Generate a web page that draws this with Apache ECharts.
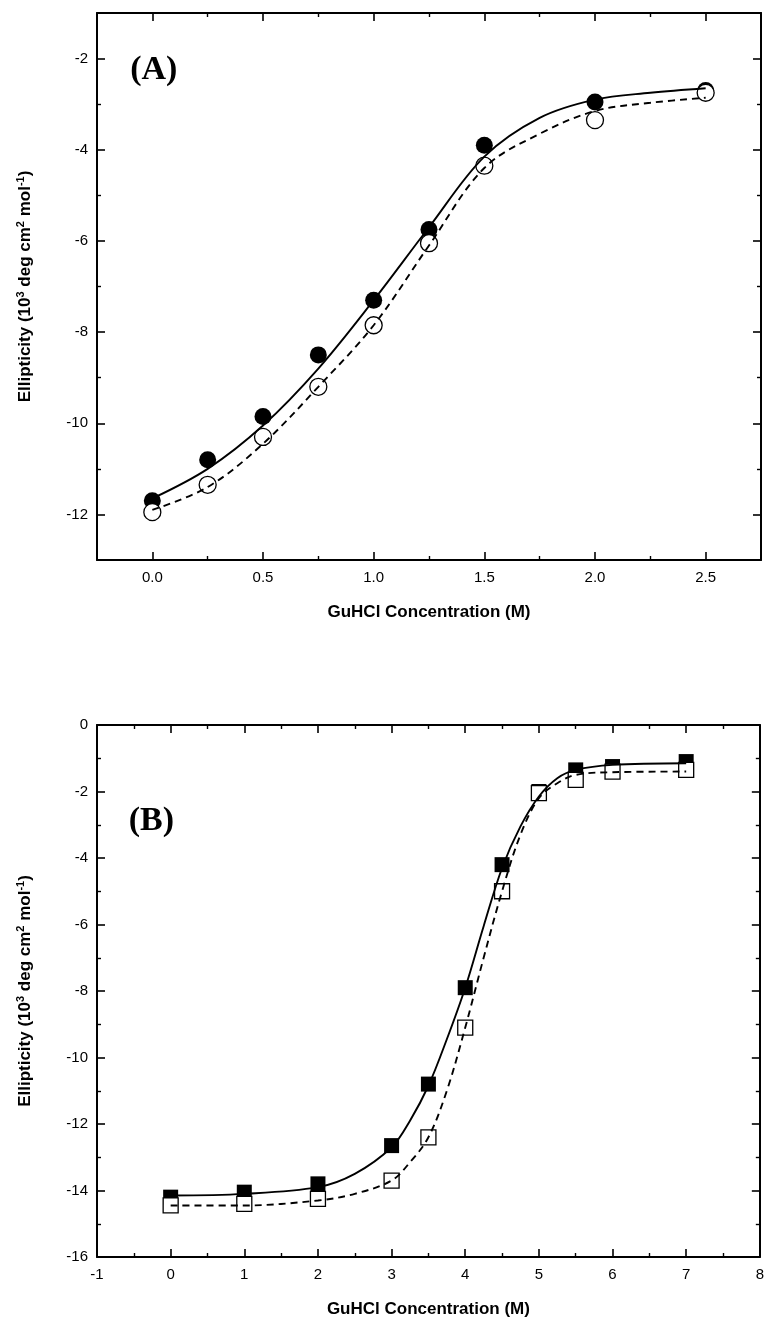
<!DOCTYPE html>
<html>
<head>
<meta charset="utf-8">
<script src="https://cdn.jsdelivr.net/npm/echarts@6/dist/echarts.min.js"></script>
<style>
  html, body { margin: 0; padding: 0; background: #fff; }
  #chart { width: 767px; height: 1332px; }
</style>
</head>
<body>
<div id="chart"></div>
<script>
// panel A data (GuHCl 0 - 2.5 M)
const xA = [0, 0.25, 0.5, 0.75, 1.0, 1.25, 1.5, 2.0, 2.5];
const filledA = [-11.7, -10.8, -9.85, -8.5, -7.3, -5.75, -3.9, -2.95, -2.7];
const openA = [-11.95, -11.35, -10.3, -9.2, -7.85, -6.05, -4.35, -3.35, -2.75];
const fitXA = [0, 0.25, 0.5, 0.75, 1.0, 1.25, 1.5, 1.75, 2.0, 2.25, 2.5];
const fitSolidA = [-11.65, -11.0, -10.05, -8.8, -7.3, -5.7, -4.15, -3.3, -2.9, -2.75, -2.65];
const fitDashA = [-11.9, -11.4, -10.45, -9.2, -7.85, -6.1, -4.4, -3.65, -3.15, -2.97, -2.86];

// panel B data (GuHCl 0 - 7 M)
const xB = [0, 1, 2, 3, 3.5, 4, 4.5, 5, 5.5, 6, 7];
const filledB = [-14.2, -14.05, -13.8, -12.65, -10.8, -7.9, -4.2, -2.0, -1.35, -1.25, -1.1];
const openB = [-14.45, -14.4, -14.25, -13.7, -12.4, -9.1, -5.0, -2.05, -1.65, -1.4, -1.35];
const fitXB = [0, 1, 2, 2.5, 3, 3.25, 3.5, 3.75, 4, 4.25, 4.5, 4.75, 5, 5.25, 5.5, 6, 7];
const fitSolidB = [-14.15, -14.1, -13.9, -13.5, -12.7, -11.9, -10.85, -9.45, -7.9, -6.05, -4.3, -3.05, -2.15, -1.6, -1.35, -1.2, -1.15];
const fitDashB = [-14.45, -14.45, -14.3, -14.1, -13.7, -13.15, -12.4, -11.0, -9.1, -7.0, -5.0, -3.3, -2.2, -1.75, -1.5, -1.42, -1.4];

// tick labels
const xTicksA = [0, 0.5, 1.0, 1.5, 2.0, 2.5];
const xMinorA = [0.25, 0.75, 1.25, 1.75, 2.25];
const yTicksA = [-12, -10, -8, -6, -4, -2];
const yMinorA = [-11, -9, -7, -5, -3];
const xTicksB = [-1, 0, 1, 2, 3, 4, 5, 6, 7, 8];
const xMinorB = [-0.5, 0.5, 1.5, 2.5, 3.5, 4.5, 5.5, 6.5, 7.5];
const yTicksB = [-16, -14, -12, -10, -8, -6, -4, -2, 0];
const yMinorB = [-15, -13, -11, -9, -7, -5, -3, -1];

const xTitle = 'GuHCl Concentration (M)';
const yTitle = '{t|Ellipticity (10}{s|3}{t| deg cm}{s|2}{t| mol}{s|-1}{t|)}';

const FONT = 'Liberation Sans, Arial, sans-serif';

function zip(xs, ys) {
  return xs.map((x, i) => [x, ys[i]]);
}

// four axes per side: labelled, minor, mirror, mirror minor
function makeAxes(dim, gridIndex, min, max, major, minor, fmt, name) {
  const isX = dim === 'x';
  const sides = isX ? ['bottom', 'top'] : ['left', 'right'];
  const base = {
    type: 'value',
    gridIndex: gridIndex,
    min: min,
    max: max,
    splitLine: { show: false },
    axisLine: { show: false, onZero: false },
  };
  const out = [];
  sides.forEach((pos, k) => {
    out.push(Object.assign({}, base, {
      position: pos,
      axisLine: { show: true, onZero: false, lineStyle: { color: '#000', width: 2 } },
      axisTick: { show: true, inside: true, length: 8, customValues: major,
        lineStyle: { color: '#000', width: 1.6 } },
      axisLabel: k === 0 ? {
        show: true, customValues: major, formatter: fmt,
        color: '#000', fontSize: 15, fontFamily: FONT, margin: isX ? 10 : 9,
      } : { show: false },
      name: k === 0 ? name : '',
      nameLocation: 'middle',
      nameGap: isX ? 44 : 62,
      nameTextStyle: isX ? {
        color: '#000', fontSize: 17, fontWeight: 'bold', fontFamily: FONT,
      } : {
        rich: {
          t: { color: '#000', fontSize: 17, fontWeight: 'bold', fontFamily: FONT },
          s: { color: '#000', fontSize: 11, fontWeight: 'bold', fontFamily: FONT, padding: [0, 0, 9, 0] },
        },
      },
    }));
    out.push(Object.assign({}, base, {
      position: pos,
      axisTick: { show: true, inside: true, length: 4, customValues: minor,
        lineStyle: { color: '#000', width: 1.4 } },
      axisLabel: { show: false },
    }));
  });
  return out;
}

const fmtA = (v) => v.toFixed(1);
const fmtB = (v) => String(v);

const xAxes = makeAxes('x', 0, -0.25, 2.75, xTicksA, xMinorA, fmtA, xTitle)
  .concat(makeAxes('x', 1, -1, 8, xTicksB, xMinorB, fmtB, xTitle));
const yAxes = makeAxes('y', 0, -13, -1, yTicksA, yMinorA, fmtB, yTitle)
  .concat(makeAxes('y', 1, -16, 0, yTicksB, yMinorB, fmtB, yTitle));

function scatter(idx, data, symbol, size, open) {
  return {
    type: 'scatter',
    xAxisIndex: idx,
    yAxisIndex: idx,
    data: data,
    symbol: symbol,
    symbolSize: size,
    z: open ? 3 : 2,
    itemStyle: open
      ? { color: '#fff', borderColor: '#000', borderWidth: 1.3, opacity: 1 }
      : { color: '#000', opacity: 1 },
    emphasis: { disabled: true },
  };
}

function fitLine(idx, data, dashed) {
  return {
    type: 'line',
    xAxisIndex: idx,
    yAxisIndex: idx,
    data: data,
    smooth: 0.35,
    showSymbol: false,
    z: 4,
    lineStyle: { color: '#000', width: 1.9, type: dashed ? [7, 5] : 'solid' },
  };
}

const chart = echarts.init(document.getElementById('chart'), null, { renderer: 'canvas' });

chart.setOption({
  animation: false,
  backgroundColor: '#fff',
  grid: [
    { left: 97, right: 6, top: 13, height: 547 },
    { left: 97, right: 7, top: 725, height: 532 },
  ],
  xAxis: xAxes,
  yAxis: yAxes,
  series: [
    scatter(0, zip(xA, filledA), 'circle', 17, false),
    scatter(0, zip(xA, openA), 'circle', 17, true),
    fitLine(0, zip(fitXA, fitSolidA), false),
    fitLine(0, zip(fitXA, fitDashA), true),
    scatter(4, zip(xB, filledB), 'rect', 15, false),
    scatter(4, zip(xB, openB), 'rect', 15, true),
    fitLine(4, zip(fitXB, fitSolidB), false),
    fitLine(4, zip(fitXB, fitDashB), true),
  ],
});

// panel letters
const posA = chart.convertToPixel({ xAxisIndex: 0, yAxisIndex: 0 }, [-0.1, -2.25]);
const posB = chart.convertToPixel({ xAxisIndex: 4, yAxisIndex: 4 }, [-0.57, -2.9]);
const letterFont = 'bold 34px "Liberation Serif", "Times New Roman", serif';
chart.setOption({
  graphic: [
    { type: 'text', x: posA[0], y: posA[1],
      style: { text: '(A)', font: letterFont, fill: '#000', textVerticalAlign: 'middle' } },
    { type: 'text', x: posB[0], y: posB[1],
      style: { text: '(B)', font: letterFont, fill: '#000', textVerticalAlign: 'middle' } },
  ],
});
</script>
</body>
</html>
